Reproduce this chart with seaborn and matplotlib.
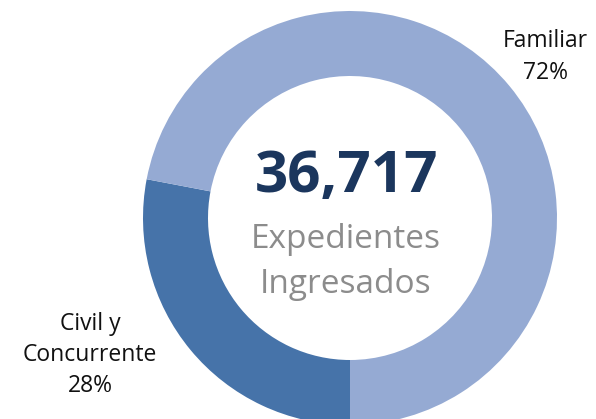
import matplotlib
matplotlib.use("Agg")
import matplotlib.pyplot as plt
import seaborn as sns

sns.set_theme(style="white")
plt.rcParams["font.family"] = ["Open Sans", "DejaVu Sans"]

# Case categories and their share of filed cases
categories = ["Civil y\nConcurrente", "Familiar"]
shares = [28, 72]
colors = ["#4673A9", "#95AAD3"]
total_cases = "36,717"
caption_lines = ["Expedientes", "Ingresados"]

fig = plt.figure(figsize=(5.96, 4.19), dpi=100)
ax = fig.add_axes([0, 0, 1, 1])

# Axes in pixel units so the ring sits where it should
cx, cy, r_out = 350, 201, 207
ring_width = 65

ax.pie(
    shares,
    colors=colors,
    startangle=270,
    counterclock=False,
    radius=r_out,
    center=(cx, cy),
    wedgeprops=dict(width=ring_width, edgecolor="none"),
    frame=True,
)
ax.set_xlim(0, 596)
ax.set_ylim(0, 419)
ax.set_axis_off()

label_pos = [(90, 64), (545, 362)]
for cat, val, (lx, ly) in zip(categories, shares, label_pos):
    ax.text(lx, ly, f"{cat}\n{val}%", ha="center", va="center",
            fontsize=16.5, color="#111111", linespacing=1.4)

ax.text(347, 227, total_cases, ha="center", va="baseline",
        fontsize=42, fontweight="bold", color="#1B365D")
for line, base in zip(caption_lines, [171, 126]):
    ax.text(346, base, line, ha="center", va="baseline",
            fontsize=24, color="#8C8C8C")

fig.savefig("out.png", dpi=100)
